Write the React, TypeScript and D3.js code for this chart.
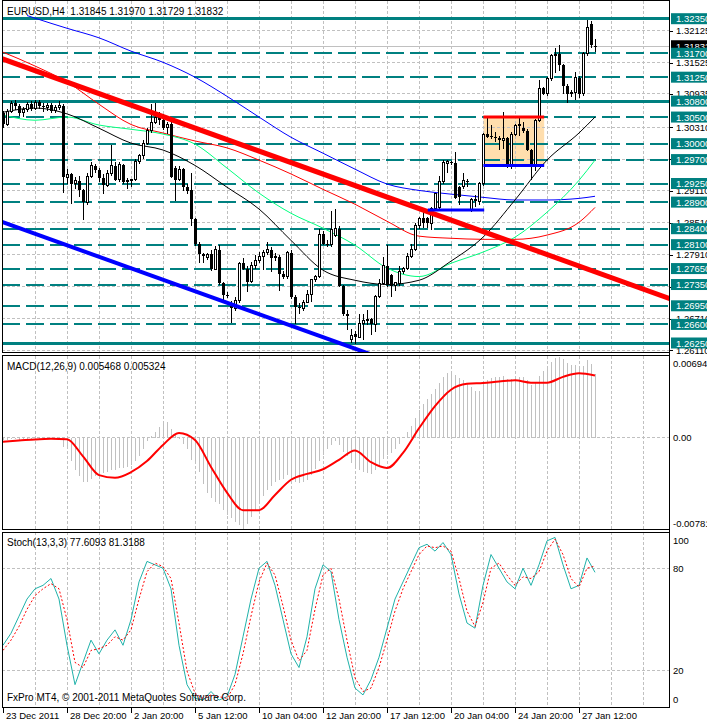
import React from "react";
import * as d3 from "d3";

const FONT = "'Liberation Sans', Arial, sans-serif";

// ---------- EURUSD H4 candles (bar 0 = 23 Dec 2011) ----------
const opens = [
  1.3058,1.3036,1.3060,1.3076,1.3070,1.3058,1.3064,1.3074,1.3066,1.3078,1.3070,1.3068,1.3072,1.3062,1.3068,
  1.3070,1.2937,1.2942,1.2925,1.2930,1.2912,1.2890,1.2938,1.2958,1.2950,1.2935,1.2922,1.2944,1.2958,1.2932,
  1.2960,1.2928,1.2930,1.2932,1.2966,1.2977,1.3001,1.3024,1.3040,1.3050,1.3045,1.3030,1.3036,1.2955,1.2932,
  1.2952,1.2918,1.2912,1.2858,1.2811,1.2792,1.2786,1.2793,1.2764,1.2800,1.2738,1.2716,1.2700,1.2690,1.2705,
  1.2775,1.2765,1.2740,1.2770,1.2780,1.2787,1.2795,1.2800,1.2785,1.2787,1.2755,1.2750,1.2795,1.2712,1.2692,
  1.2690,1.2702,1.2716,1.2745,1.2750,1.2830,1.2812,1.2810,1.2828,1.2840,1.2733,1.2680,1.2632,1.2642,1.2636,
  1.2662,1.2668,1.2670,1.2660,1.2712,1.2737,1.2770,1.2752,1.2733,1.2736,1.2760,1.2765,1.2788,1.2800,1.2846,
  1.2860,1.2860,1.2850,1.2878,1.2880,1.2928,1.2962,1.2965,1.2964,1.2918,1.2920,1.2930,1.2876,1.2896,1.2892,
  1.2925,1.3018,1.3014,1.3012,1.3010,1.3006,1.3010,1.2960,1.3018,1.3034,1.3030,1.3024,1.2988,1.2960,1.3044,
  1.3104,1.3094,1.3122,1.3166,1.3168,1.3148,1.3108,1.3094,1.3096,1.3124,1.3094,1.3170,1.3225,1.31845,
];
const highs = [
  1.3062,1.3066,1.3080,1.3082,1.3074,1.3068,1.3078,1.3080,1.3082,1.3082,1.3076,1.3076,1.3076,1.3072,1.3080,
  1.3074,1.2952,1.2945,1.2938,1.2940,1.2915,1.2945,1.2965,1.2962,1.2955,1.2942,1.2950,1.2997,1.2966,1.2966,
  1.2962,1.2935,1.2934,1.2972,1.2980,1.3006,1.3030,1.3075,1.3076,1.3060,1.3055,1.3040,1.3042,1.2958,1.2958,
  1.2954,1.2925,1.2945,1.2860,1.2815,1.2795,1.2795,1.2800,1.2808,1.2810,1.2740,1.2720,1.2704,1.2712,1.2778,
  1.2785,1.2770,1.2778,1.2790,1.2796,1.2800,1.2815,1.2805,1.2795,1.2790,1.2760,1.2798,1.2800,1.2716,1.2700,
  1.2705,1.2724,1.2746,1.2752,1.2840,1.2835,1.2818,1.2873,1.2877,1.2845,1.2735,1.2687,1.2651,1.2648,1.2680,
  1.2680,1.2687,1.2672,1.2715,1.2745,1.2786,1.2809,1.2755,1.2738,1.2770,1.2768,1.2795,1.2812,1.2850,1.2862,
  1.2875,1.2862,1.2880,1.2908,1.2940,1.2970,1.2970,1.2968,1.2985,1.2920,1.2945,1.2933,1.2898,1.2903,1.2928,
  1.3020,1.3050,1.3035,1.3022,1.3014,1.3060,1.3012,1.3022,1.3036,1.3048,1.3040,1.3028,1.2990,1.3046,1.3120,
  1.3106,1.3125,1.3168,1.3180,1.3185,1.3150,1.3112,1.3100,1.3134,1.3128,1.3172,1.3233,1.3230,1.3197,
];
const lows = [
  1.3030,1.3034,1.3058,1.3064,1.3052,1.3050,1.3060,1.3062,1.3064,1.3066,1.3060,1.3062,1.3058,1.3058,1.3064,
  1.2908,1.2925,1.2886,1.2915,1.2900,1.2856,1.2885,1.2935,1.2945,1.2928,1.2905,1.2918,1.2940,1.2930,1.2928,
  1.2925,1.2915,1.2918,1.2930,1.2962,1.2972,1.2998,1.3020,1.3036,1.3035,1.3025,1.3018,1.2935,1.2893,1.2930,
  1.2910,1.2905,1.2845,1.2808,1.2775,1.2775,1.2782,1.2760,1.2762,1.2735,1.2706,1.2710,1.2663,1.2685,1.2700,
  1.2762,1.2720,1.2738,1.2765,1.2775,1.2762,1.2790,1.2758,1.2780,1.2722,1.2745,1.2745,1.2708,1.2660,1.2680,
  1.2685,1.2700,1.2703,1.2740,1.2748,1.2810,1.2805,1.2806,1.2825,1.2730,1.2675,1.2650,1.2625,1.2624,1.2634,
  1.2630,1.2658,1.2640,1.2645,1.2710,1.2735,1.2730,1.2712,1.2722,1.2732,1.2755,1.2762,1.2785,1.2798,1.2840,
  1.2842,1.2842,1.2837,1.2876,1.2876,1.2925,1.2945,1.2960,1.2895,1.2885,1.2915,1.2918,1.2872,1.2880,1.2885,
  1.2920,1.3010,1.3008,1.3004,1.2988,1.2990,1.2955,1.2953,1.3014,1.3014,1.3020,1.2986,1.2931,1.2948,1.3040,
  1.3092,1.3090,1.3118,1.3132,1.3136,1.3094,1.3076,1.3088,1.3082,1.3085,1.3090,1.3165,1.3180,1.31729,
];
const closes = [
  1.3036,1.3060,1.3076,1.3070,1.3058,1.3064,1.3074,1.3066,1.3078,1.3070,1.3068,1.3072,1.3062,1.3068,1.3072,
  1.2937,1.2942,1.2925,1.2930,1.2912,1.2890,1.2938,1.2958,1.2950,1.2935,1.2922,1.2944,1.2958,1.2932,1.2960,
  1.2928,1.2930,1.2932,1.2966,1.2977,1.3001,1.3024,1.3040,1.3050,1.3045,1.3030,1.3036,1.2937,1.2932,1.2952,
  1.2918,1.2910,1.2858,1.2811,1.2792,1.2788,1.2792,1.2764,1.2800,1.2738,1.2715,1.2713,1.2690,1.2705,1.2775,
  1.2765,1.2740,1.2770,1.2780,1.2787,1.2795,1.2800,1.2785,1.2787,1.2755,1.2750,1.2795,1.2712,1.2692,1.2690,
  1.2702,1.2716,1.2745,1.2750,1.2830,1.2812,1.2810,1.2838,1.2840,1.2733,1.2680,1.2676,1.2640,1.2636,1.2662,
  1.2668,1.2670,1.2660,1.2712,1.2737,1.2770,1.2735,1.2733,1.2738,1.2760,1.2765,1.2788,1.2800,1.2846,1.2860,
  1.2850,1.2850,1.2878,1.2906,1.2928,1.2965,1.2966,1.2964,1.2898,1.2900,1.2930,1.2930,1.2894,1.2892,1.2925,
  1.3018,1.3012,1.3012,1.3010,1.3006,1.3010,1.2960,1.3018,1.3034,1.3036,1.3024,1.2988,1.2960,1.3044,1.3104,
  1.3094,1.3122,1.3166,1.3168,1.3148,1.3108,1.3094,1.3096,1.3124,1.3094,1.3170,1.3218,1.3185,1.31832,
];

// ---------- moving averages (read at bar indices) ----------
const maIdx = [0, 8, 16, 24, 32, 40, 48, 56, 64, 72, 80, 88, 96, 104, 112, 120, 128, 136, 144, 148];
const maRed = [1.3172,1.3146,1.3116,1.3074,1.3036,1.3020,1.3005,1.2992,1.2969,1.2943,1.2914,1.2886,1.2854,1.2826,1.2822,1.2820,1.2820,1.2828,1.2852,1.2880];
const maGreen = [1.3054,1.3044,1.3050,1.3035,1.3027,1.3018,1.2999,1.2954,1.2907,1.2869,1.2841,1.2809,1.2766,1.2750,1.2775,1.2796,1.2824,1.2871,1.2931,1.2969];
const maBlack = [1.3059,1.3067,1.3056,1.3029,1.3001,1.2988,1.2959,1.2918,1.2877,1.2818,1.2762,1.2743,1.2735,1.2743,1.2779,1.2824,1.2894,1.2969,1.3020,1.3050];
const blueIdx = [6, 8, 16, 24, 32, 40, 48, 56, 64, 72, 80, 88, 96, 104, 112, 120, 128, 136, 144, 148];
const maBlue = [1.3241,1.3236,1.3217,1.3199,1.3174,1.3153,1.3125,1.3089,1.3050,1.3012,1.2982,1.2952,1.2924,1.2912,1.2905,1.2899,1.2894,1.2894,1.2897,1.2901];

// ---------- drawn objects ----------
const redTrendIdx = [0, 166.5];
const redTrendPrice = [1.3159, 1.2709];
const blueTrendIdx = [0, 89.25];
const blueTrendPrice = [1.2852, 1.2611];
const supportLowIdx = [106.2, 120.3];
const supportLowPrice = 1.2875;
const boxIdx = [120.1, 135.3];
const boxLowPrice = 1.2959;
const boxHighPrice = 1.3050;

const solidLevels = [1.3235, 1.3080, 1.2625];
const dashedLevels = [1.3170, 1.3125, 1.3050, 1.3000, 1.2970, 1.2925, 1.2890, 1.2840, 1.2810, 1.2765, 1.2735, 1.2695, 1.2660];
const priceTicks = [1.32125, 1.31525, 1.30935, 1.30310, 1.29710, 1.29110, 1.28510, 1.27910, 1.27310, 1.26710, 1.26110];
const bidPrice = 1.31832;

// ---------- MACD (pips) ----------
const macdPips = [
  -2,-2,-1,-1,-2,-1,-1,-1,-2,-1,-1,-1,-1,-1,-1,
  -8,-10,-20,-28,-33,-38,-38,-35,-33,-32,-30,-29,-28,-28,-26,-26,-25,-23,-20,-16,-10,-3,1,5,9,12,13,7,2,-1,-5,-10,-19,-22,-29,-40,-47,-52,-55,-57,-62,-66,-69,-72,
  -75,-78,-74,-68,-62,-56,-50,-45,-41,-38,-36,-35,-32,-34,-38,-39,-38,-36,-32,-27,
  -20,-15,-10,-6,-3,-6,-12,-16,-22,-26,-28,-29,-30,-31,-28,-24,-18,-15,-13,-10,-5,0,
  5,10,17,24,29,33,37,42,47,52,55,57,54,51,49,47,43,40,40,
  46,49,51,52,52,53,50,50,51,52,52,49,45,47,53,57,61,65,68,69,67,64,62,62,59,61,66,63,54.68,
];
const signalIdx = d3.range(0, 149, 4);
const signalPips = [-3.4,-2.5,-1.5,-1,-1.4,-16,-32,-34.3,-29.5,-20,-6.2,4,-2,-25,-47,-62,-62,-49,-36,-31,-27,-19,-11,-21,-26,-13,8,27,41,46,46.8,48,49,47,47,52,55,53.24];
const macdTop = 0.00694;
const macdBottom = -0.00781;

// ---------- Stochastic (every 2nd bar) ----------
const stochIdx = d3.range(0, 149, 2);
const stochK = [35,42,52,62,68,70,74,62,35,12,25,38,30,38,44,35,50,72,84,82,80,68,35,12,4,3,8,3,5,18,40,62,80,84,70,50,30,22,40,68,82,78,50,28,10,6,15,28,45,62,72,82,92,94,90,95,88,65,48,45,70,88,80,72,68,80,70,82,96,98,82,68,70,86,77.61];
const stochD = [32,38,46,56,64,68,71,68,50,25,22,32,33,35,40,38,44,62,78,83,81,74,48,20,7,4,6,5,4,12,30,52,72,83,76,58,38,26,32,56,76,80,62,38,16,8,10,22,38,55,68,78,88,93,92,93,90,74,55,46,60,80,83,76,70,75,74,78,90,97,88,74,69,80,81.32];
const stochLevels = [80, 20];
const stochLabels = [100, 80, 20, 0];

// ---------- time axis ----------
const timeIdx = [0, 16, 32, 48, 64, 80, 96, 112, 128, 144];
const timeText = ["23 Dec 2011", "28 Dec 20:00", "2 Jan 20:00", "5 Jan 12:00", "10 Jan 04:00", "12 Jan 20:00", "17 Jan 12:00", "20 Jan 04:00", "24 Jan 20:00", "27 Jan 12:00"];

const TEAL = "#008080";
const GRID = "#c0c0c0";

export default function App() {
  const W = 707, H = 723;
  const L = 2, R = 669;
  const mainP = { top: 0.5, bottom: 352.5 };
  const macdP = { top: 355.5, bottom: 529.5 };
  const stP = { top: 532, bottom: 707 };

  const x = d3.scaleLinear().domain([0, 148]).range([3, 595]);
  const y = d3.scaleLinear().domain([1.2625, 1.3235]).range([343, 18.7]);
  const yM = d3.scaleLinear().domain([macdBottom, macdTop]).range([529, 356.5]);
  const yS = d3.scaleLinear().domain([0, 100]).range([705.2, 534]);

  const gridIdx = d3.range(8, 164, 8);

  const maLine = (idx: number[], vals: number[]) =>
    d3.line<number>().x((_, k) => x(idx[k])).y((v) => y(v)).curve(d3.curveMonotoneX)(vals) || "";

  const redTrend = d3.scaleLinear().domain(redTrendIdx).range(redTrendPrice);
  const blueTrend = d3.scaleLinear().domain(blueTrendIdx).range(blueTrendPrice);

  const signalPath =
    d3.line<number>().x((_, k) => x(signalIdx[k])).y((v) => yM(v / 10000)).curve(d3.curveMonotoneX)(signalPips) || "";
  const kPath = d3.line<number>().x((_, k) => x(stochIdx[k])).y((v) => yS(v))(stochK) || "";
  const dPath = d3.line<number>().x((_, k) => x(stochIdx[k])).y((v) => yS(v))(stochD) || "";

  const txt = { fontFamily: FONT, fontSize: 10 } as const;
  const axTxt = { fontFamily: FONT, fontSize: 9.5 } as const;

  return (
    <svg width={W} height={H} style={{ position: "absolute", left: 0, top: 0, background: "#fff" }}>
      <defs>
        <clipPath id="cMain"><rect x={L} y={mainP.top} width={R - L} height={mainP.bottom - mainP.top} /></clipPath>
        <clipPath id="cMacd"><rect x={L} y={macdP.top} width={R - L} height={macdP.bottom - macdP.top} /></clipPath>
        <clipPath id="cSt"><rect x={L} y={stP.top} width={R - L} height={stP.bottom - stP.top} /></clipPath>
      </defs>
      <rect x={0} y={0} width={W} height={H} fill="#fff" />

      {/* ---------- main panel ---------- */}
      <g clipPath="url(#cMain)">
        <rect x={x(boxIdx[0])} y={y(boxHighPrice)} width={x(boxIdx[1]) - x(boxIdx[0])}
          height={y(boxLowPrice) - y(boxHighPrice)} fill="#ffdead" />
        {gridIdx.map((g) => (
          <line key={"vg" + g} x1={x(g)} x2={x(g)} y1={mainP.top} y2={mainP.bottom} stroke={GRID} strokeDasharray="3,2" shapeRendering="crispEdges" />
        ))}
        {priceTicks.map((p) => (
          <line key={"hg" + p} x1={L} x2={R} y1={y(p)} y2={y(p)} stroke={GRID} strokeDasharray="3,2" shapeRendering="crispEdges" />
        ))}
        <line x1={L} x2={R} y1={y(bidPrice)} y2={y(bidPrice)} stroke={GRID} shapeRendering="crispEdges" />
        {dashedLevels.map((p) => (
          <line key={"dl" + p} x1={L} x2={R} y1={y(p)} y2={y(p)} stroke={TEAL} strokeWidth={2} strokeDasharray="18,6" shapeRendering="crispEdges" />
        ))}
        {solidLevels.map((p) => (
          <line key={"sl" + p} x1={L} x2={R} y1={y(p)} y2={y(p)} stroke={TEAL} strokeWidth={3} shapeRendering="crispEdges" />
        ))}
        <path d={maLine(blueIdx, maBlue)} fill="none" stroke="#0000ff" strokeWidth={1} />
        <path d={maLine(maIdx, maRed)} fill="none" stroke="#ff0000" strokeWidth={1} />
        <path d={maLine(maIdx, maGreen)} fill="none" stroke="#00ff7f" strokeWidth={1} />
        <path d={maLine(maIdx, maBlack)} fill="none" stroke="#000" strokeWidth={1} />

        {closes.map((c, i) => {
          const o = opens[i];
          const cx = Math.round(x(i)) + 0.5;
          const top = y(Math.max(o, c));
          const bot = y(Math.min(o, c));
          const up = c > o;
          return (
            <g key={"c" + i} shapeRendering="crispEdges">
              <line x1={cx} x2={cx} y1={y(highs[i])} y2={y(lows[i])} stroke="#000" />
              {up ? (
                <rect x={cx - 1} y={top} width={2} height={Math.max(1, bot - top)} fill="#fff" stroke="#000" />
              ) : (
                <rect x={cx - 1.5} y={top} width={3} height={Math.max(1, bot - top)} fill="#000" />
              )}
            </g>
          );
        })}

        <line x1={x(-1)} x2={x(170)} y1={y(redTrend(-1))} y2={y(redTrend(170))} stroke="#ff0000" strokeWidth={5} />
        <line x1={x(-1)} x2={x(110)} y1={y(blueTrend(-1))} y2={y(blueTrend(110))} stroke="#0000ff" strokeWidth={4} />
        <line x1={x(supportLowIdx[0])} x2={x(supportLowIdx[1])} y1={y(supportLowPrice)} y2={y(supportLowPrice)} stroke="#0000ff" strokeWidth={3} />
        <line x1={x(boxIdx[0])} x2={x(boxIdx[1])} y1={y(boxLowPrice)} y2={y(boxLowPrice)} stroke="#0000ff" strokeWidth={3} />
        <line x1={x(boxIdx[0])} x2={x(boxIdx[1])} y1={y(boxHighPrice)} y2={y(boxHighPrice)} stroke="#ff0000" strokeWidth={3} />
      </g>
      <text x={7} y={14.5} {...txt} style={{ whiteSpace: "pre" }}>{"EURUSD,H4  1.31845 1.31970 1.31729 1.31832"}</text>

      {/* ---------- MACD panel ---------- */}
      <g clipPath="url(#cMacd)">
        {gridIdx.map((g) => (
          <line key={"mvg" + g} x1={x(g)} x2={x(g)} y1={macdP.top} y2={macdP.bottom} stroke={GRID} strokeDasharray="3,2" shapeRendering="crispEdges" />
        ))}
        <line x1={L} x2={R} y1={yM(0)} y2={yM(0)} stroke={GRID} strokeDasharray="3,2" shapeRendering="crispEdges" />
        {macdPips.map((v, i) => (
          <line key={"h" + i} x1={Math.round(x(i)) + 0.5} x2={Math.round(x(i)) + 0.5} y1={yM(0)} y2={yM(v / 10000)} stroke="#c0c0c0" shapeRendering="crispEdges" />
        ))}
        <path d={signalPath} fill="none" stroke="#ff0000" strokeWidth={2} />
      </g>
      <text x={7} y={369.5} {...txt}>MACD(12,26,9) 0.005468 0.005324</text>

      {/* ---------- Stochastic panel ---------- */}
      <g clipPath="url(#cSt)">
        {gridIdx.map((g) => (
          <line key={"svg" + g} x1={x(g)} x2={x(g)} y1={stP.top} y2={stP.bottom} stroke={GRID} strokeDasharray="3,2" shapeRendering="crispEdges" />
        ))}
        {stochLevels.map((v) => (
          <line key={"sg" + v} x1={L} x2={R} y1={yS(v)} y2={yS(v)} stroke={GRID} strokeDasharray="3,2" shapeRendering="crispEdges" />
        ))}
        <path d={kPath} fill="none" stroke="#20b2aa" strokeWidth={1} />
        <path d={dPath} fill="none" stroke="#ff0000" strokeWidth={1} strokeDasharray="2,2" />
      </g>
      <text x={7} y={546} {...txt}>Stoch(13,3,3) 77.6093 81.3188</text>
      <text x={7} y={701} {...txt}>FxPro MT4, © 2001-2011 MetaQuotes Software Corp.</text>

      {/* ---------- frames ---------- */}
      {[mainP, macdP, stP].map((p, k) => (
        <rect key={"f" + k} x={L + 0.5} y={p.top} width={R - L - 0.5} height={p.bottom - p.top} fill="none" stroke="#000" shapeRendering="crispEdges" />
      ))}
      <line x1={R + 0.5} x2={R + 0.5} y1={0} y2={stP.bottom} stroke="#000" shapeRendering="crispEdges" />

      {/* ---------- price axis ---------- */}
      {priceTicks.map((p) => (
        <g key={"pt" + p}>
          <line x1={R} x2={R + 4} y1={Math.round(y(p)) + 0.5} y2={Math.round(y(p)) + 0.5} stroke="#000" shapeRendering="crispEdges" />
          <text x={676} y={y(p)} dominantBaseline="central" {...axTxt}>{p.toFixed(5)}</text>
        </g>
      ))}
      <rect x={671} y={y(bidPrice) - 6} width={40} height={12} fill="#000" />
      <text x={676} y={y(bidPrice)} dominantBaseline="central" {...axTxt} fill="#fff">{bidPrice.toFixed(5)}</text>
      {[...solidLevels, ...dashedLevels].sort((a, b) => b - a).map((p) => (
        <g key={"lb" + p}>
          <rect x={671} y={y(p) - 5.5} width={40} height={11} fill={TEAL} />
          <text x={676} y={y(p)} dominantBaseline="central" {...axTxt} fill="#fff">{p.toFixed(5)}</text>
        </g>
      ))}

      {/* ---------- MACD axis ---------- */}
      {[macdTop, 0, macdBottom].map((v) => (
        <text key={"ma" + v} x={673} y={Math.min(Math.max(yM(v), macdP.top + 8), macdP.bottom - 6)} dominantBaseline="central" {...axTxt}>
          {v === 0 ? "0.00" : v.toFixed(5)}
        </text>
      ))}

      {/* ---------- Stoch axis ---------- */}
      {stochLabels.map((v) => (
        <text key={"sa" + v} x={673} y={Math.min(Math.max(yS(v), stP.top + 8), stP.bottom - 8)} dominantBaseline="central" {...axTxt}>{v}</text>
      ))}

      {/* ---------- time axis ---------- */}
      {timeIdx.map((ti, k) => (
        <g key={"ta" + ti}>
          <line x1={Math.round(x(ti)) + 0.5} x2={Math.round(x(ti)) + 0.5} y1={stP.bottom} y2={stP.bottom + 6} stroke="#000" shapeRendering="crispEdges" />
          <text x={x(ti) + 3} y={719} {...axTxt}>{timeText[k]}</text>
        </g>
      ))}
    </svg>
  );
}
